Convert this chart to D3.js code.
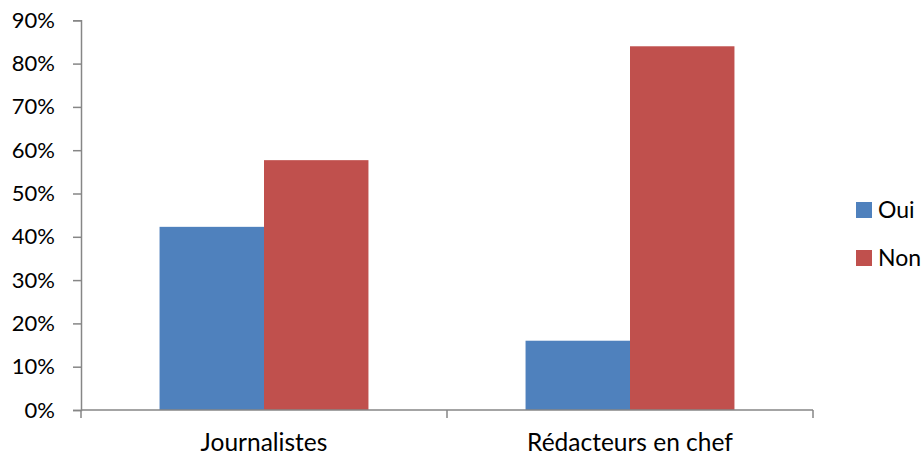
<!DOCTYPE html>
<html>
<head>
<meta charset="utf-8">
<script src="https://cdn.jsdelivr.net/npm/d3@7"></script>
<style>
  html, body { margin: 0; padding: 0; background: #fff; }
  svg { display: block; }
  text { font-family: Lato, "Open Sans", sans-serif; fill: #000; }
</style>
</head>
<body>
<svg id="chart" width="924" height="459"></svg>
<script>
// Survey answers by group (share of respondents, %)
const categories = ["Journalistes", "Rédacteurs en chef"];
const seriesNames = ["Oui", "Non"];
const oui = [42.3, 16.0];
const non = [57.7, 84.0];
const yTicks = [0, 10, 20, 30, 40, 50, 60, 70, 80, 90];
const colors = ["#4F81BD", "#C0504D"];

const series = [oui, non];

const svg = d3.select("#chart");
const margin = { left: 81, right: 111, top: 20.3, bottom: 49 };
const W = 924, H = 459;

const x = d3.scaleBand()
  .domain(categories)
  .range([margin.left, W - margin.right])
  .paddingInner(0).paddingOuter(0);

const xInner = d3.scaleBand()
  .domain(seriesNames)
  .range([0, x.bandwidth()])
  .paddingOuter(0.752).paddingInner(0);

const y = d3.scaleLinear()
  .domain([0, 90])
  .range([H - margin.bottom, margin.top]);

// Bars
const groups = svg.append("g").selectAll("g")
  .data(categories)
  .join("g")
  .attr("transform", d => `translate(${x(d)},0)`);

groups.selectAll("rect")
  .data((c, i) => seriesNames.map((s, j) => ({ s, v: series[j][i], j })))
  .join("rect")
  .attr("x", d => xInner(d.s))
  .attr("width", xInner.bandwidth())
  .attr("y", d => y(d.v))
  .attr("height", d => y(0) - y(d.v))
  .attr("fill", d => colors[d.j]);

const axisColor = "#868686";

// Y axis
const yAxis = svg.append("g")
  .attr("transform", `translate(${margin.left},0)`)
  .call(d3.axisLeft(y).tickValues(yTicks).tickFormat(d => d + "%").tickSize(8).tickPadding(18));
yAxis.select(".domain").attr("stroke", axisColor).attr("stroke-width", 1.5);
yAxis.selectAll(".tick line").attr("stroke", axisColor).attr("stroke-width", 1.5);
yAxis.selectAll(".tick text")
  .attr("font-size", 22)
  .attr("fill", "#000")
  .attr("font-family", "Lato, sans-serif");

// X axis with boundary ticks between categories
const xAxisG = svg.append("g")
  .attr("transform", `translate(0,${y(0)})`);
xAxisG.append("line")
  .attr("x1", margin.left).attr("x2", W - margin.right)
  .attr("y1", 0).attr("y2", 0)
  .attr("stroke", axisColor).attr("stroke-width", 1.5);
const bounds = categories.map(c => x(c)).concat([x(categories[categories.length - 1]) + x.bandwidth()]);
xAxisG.selectAll("line.b")
  .data(bounds)
  .join("line")
  .attr("class", "b")
  .attr("x1", d => d).attr("x2", d => d)
  .attr("y1", 0).attr("y2", 8)
  .attr("stroke", axisColor).attr("stroke-width", 1.5);
xAxisG.selectAll("text")
  .data(categories)
  .join("text")
  .attr("x", d => x(d) + x.bandwidth() / 2)
  .attr("y", 41)
  .attr("text-anchor", "middle")
  .attr("font-size", 24.5)
  .text(d => d);

// Legend
const legend = svg.append("g").attr("transform", "translate(856,202)");
const li = legend.selectAll("g")
  .data(seriesNames)
  .join("g")
  .attr("transform", (d, i) => `translate(0,${i * 48})`);
li.append("rect")
  .attr("width", 16).attr("height", 16)
  .attr("fill", (d, i) => colors[i]);
li.append("text")
  .attr("x", 22).attr("y", 15.5)
  .attr("font-size", 23)
  .text(d => d);
</script>
</body>
</html>
